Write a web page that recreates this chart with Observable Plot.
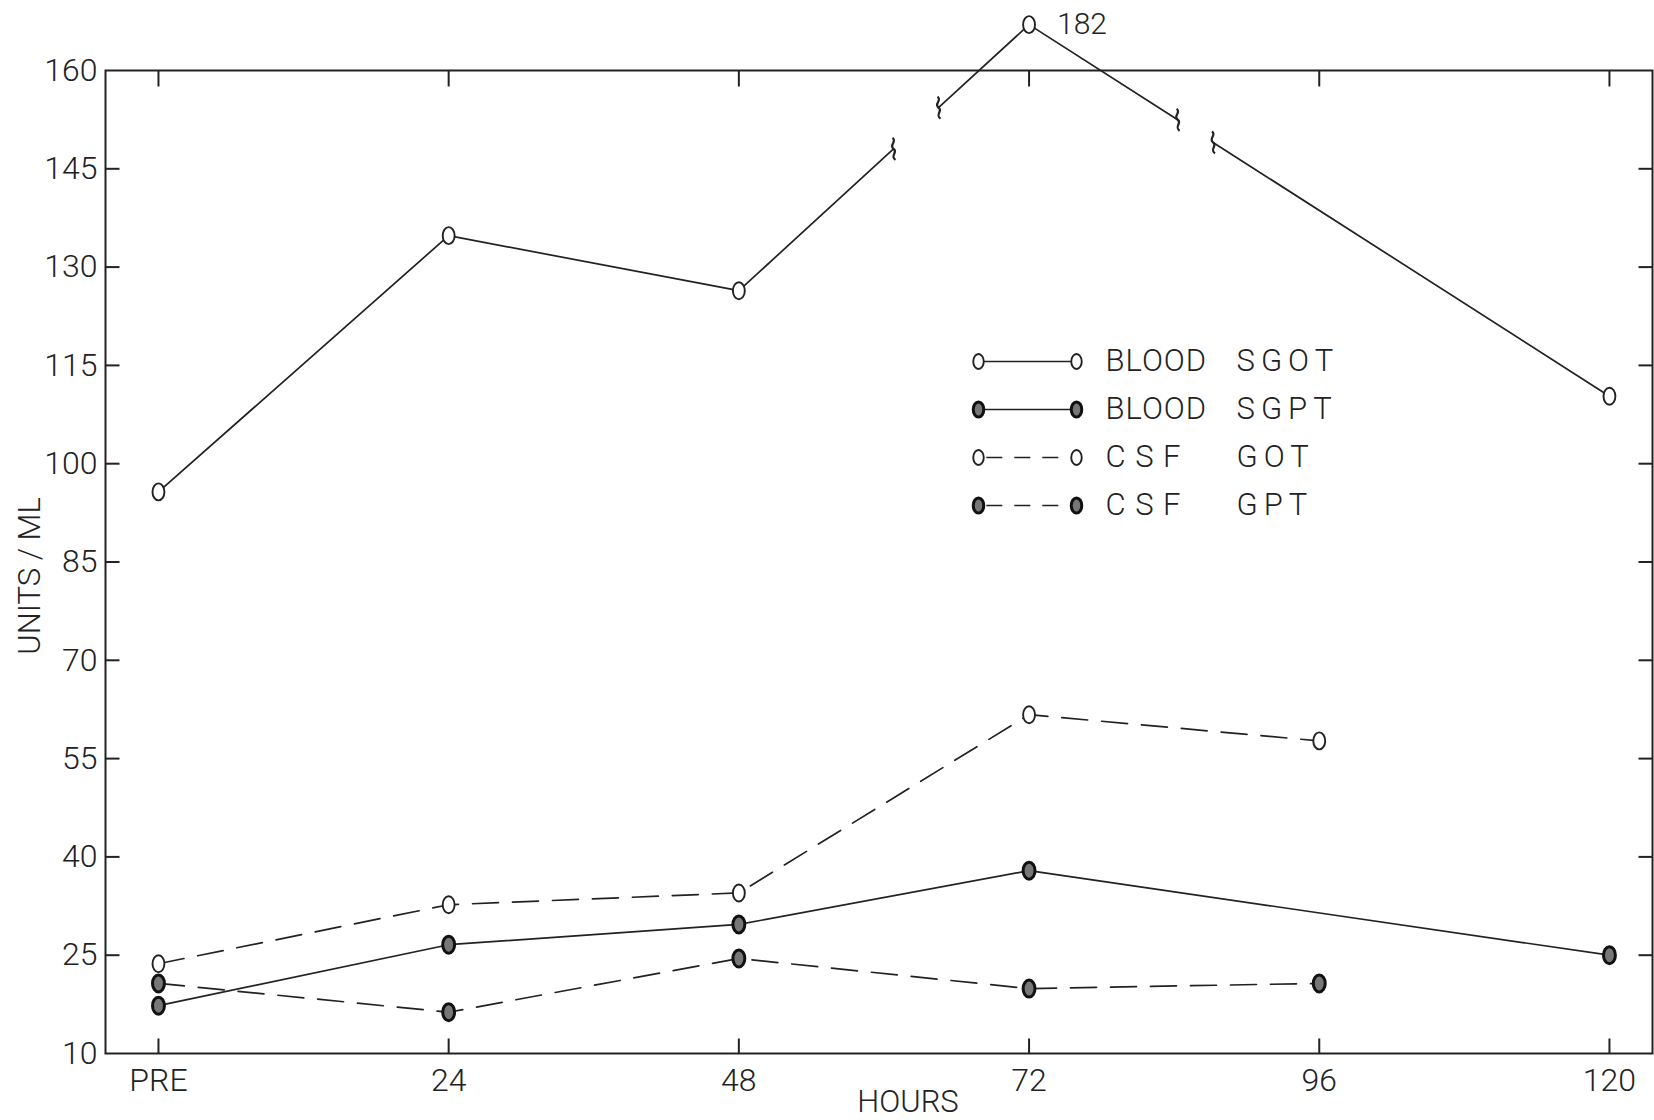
<!DOCTYPE html>
<html><head><meta charset="utf-8">
<script src="https://cdn.jsdelivr.net/npm/d3@7"></script>
<script src="https://cdn.jsdelivr.net/npm/@observablehq/plot@0.6"></script>
<style>
body{margin:0;background:#fff;}
#wrap{position:relative;width:1654px;height:1120px;overflow:hidden;}
#legend{position:absolute;left:960px;top:335px;}
</style></head><body><div id="wrap"><div id="chart"></div><div id="legend"></div></div>
<script>
// ---- data ----
const hours = [0, 24, 48, 72, 96, 120];
const hourLabels = ["PRE", "24", "48", "72", "96", "120"];
const yTicks = [10, 25, 40, 55, 70, 85, 100, 115, 130, 145, 160];
const bloodSGOT = [95.7, 134.8, 126.4, 182, null, 110.3];
const bloodSGPT = [17.3, 26.6, 29.7, 37.9, null, 25.0];
const csfGOT = [23.7, 32.7, 34.5, 61.7, 57.7, null];
const csfGPT = [20.7, 16.3, 24.5, 19.9, 20.7, null];
const seriesNames = ["BLOOD SGOT", "BLOOD SGPT", "CSF GOT", "CSF GPT"];
const legendWords = [["BLOOD", "SGOT"], ["BLOOD", "SGPT"], ["C S F", "GOT"], ["C S F", "GPT"]];
const xLabel = "HOURS";
const yLabel = "UNITS / ML";

// ---- broken axis: values above the top are drawn just above the frame ----
const axisTop = 160, breakDisplay = 167;
const offMax = d3.max(bloodSGOT);
const disp = v => v > axisTop ? axisTop + (v - axisTop) * (breakDisplay - axisTop) / (offMax - axisTop) : v;

const INK = "#222";
const FONT = "Roboto, 'DejaVu Sans', sans-serif";
const DASH = "26,14";

const series = [
  {name: seriesNames[0], values: bloodSGOT, dash: null, heavy: false},
  {name: seriesNames[1], values: bloodSGPT, dash: null, heavy: true},
  {name: seriesNames[2], values: csfGOT, dash: DASH, heavy: false},
  {name: seriesNames[3], values: csfGPT, dash: DASH, heavy: true}
];
const pts = series.map(s => hours.map((h, i) => ({h, v: s.values[i], name: s.name}))
  .filter(d => d.v != null).map(d => ({...d, y: disp(d.v)})));

// line breaks on the SGOT line (fractions along segment after point index)
const sgotBreaks = [{after: 2, t0: 0.533, t1: 0.688}, {after: 3, t0: 0.256, t1: 0.317}];
const sgotPieces = [], breakEnds = [];
{
  let piece = 0;
  const p = pts[0];
  p.forEach((d, i) => {
    sgotPieces.push({h: d.h, y: d.y, piece});
    const b = sgotBreaks.find(b => b.after === i);
    if (b && i + 1 < p.length) {
      const n = p[i + 1];
      const at = t => ({h: d.h + (n.h - d.h) * t, y: d.y + (n.y - d.y) * t});
      const a = at(b.t0), c = at(b.t1);
      sgotPieces.push({...a, piece});
      piece++;
      sgotPieces.push({...c, piece});
      breakEnds.push(a, c);
    }
  });
}

// ---- custom symbols ----
const ellipse = {draw(ctx, size) {
  const r = Math.sqrt(size / Math.PI), rx = r * 0.7, ry = r, k = 0.5523;
  ctx.moveTo(rx, 0);
  ctx.bezierCurveTo(rx, ry * k, rx * k, ry, 0, ry);
  ctx.bezierCurveTo(-rx * k, ry, -rx, ry * k, -rx, 0);
  ctx.bezierCurveTo(-rx, -ry * k, -rx * k, -ry, 0, -ry);
  ctx.bezierCurveTo(rx * k, -ry, rx, -ry * k, rx, 0);
  ctx.closePath();
}};
const squiggle = {draw(ctx) {
  ctx.moveTo(-1, -11);
  ctx.bezierCurveTo(4, -7, -5, -4, 0, 0);
  ctx.bezierCurveTo(5, 3, -4, 7, 2, 11);
}};
const tickSym = (dx, dy) => ({draw(ctx) { ctx.moveTo(0, 0); ctx.lineTo(dx, dy); }});

const dotStyle = s => s.heavy
  ? {fill: "#777", stroke: "#111", strokeWidth: 3}
  : {fill: "#fff", stroke: INK, strokeWidth: 1.9};

const inner = yTicks.slice(1, -1);

const marks = [
  Plot.frame({stroke: INK, strokeWidth: 2}),
  Plot.dot(inner, {y: d => d, frameAnchor: "left", symbol: tickSym(14, 0), stroke: INK, strokeWidth: 2, fill: "none"}),
  Plot.dot(inner, {y: d => d, frameAnchor: "right", symbol: tickSym(-14, 0), stroke: INK, strokeWidth: 2, fill: "none"}),
  Plot.dot(hours, {x: d => d, frameAnchor: "top", symbol: tickSym(0, 16), stroke: INK, strokeWidth: 2, fill: "none"}),
  Plot.dot(hours, {x: d => d, frameAnchor: "bottom", symbol: tickSym(0, -15), stroke: INK, strokeWidth: 2, fill: "none"}),
  Plot.axisY({ticks: yTicks, tickSize: 0, tickPadding: 8, fontSize: 32, label: null}),
  Plot.axisX({ticks: hours, tickFormat: d => hourLabels[hours.indexOf(d)], tickSize: 0, tickPadding: 15, fontSize: 32, label: null}),
  Plot.text([xLabel], {text: d => d, frameAnchor: "bottom", dx: 29, dy: 49, fontSize: 31, lineAnchor: "middle", textAnchor: "middle"}),
  Plot.text([yLabel], {text: d => d, frameAnchor: "left", rotate: -90, dx: -75, dy: 14, fontSize: 31, lineAnchor: "middle", textAnchor: "middle"}),
  Plot.line(sgotPieces, {x: "h", y: "y", z: "piece", stroke: INK, strokeWidth: 1.7}),
  Plot.dot(breakEnds, {x: "h", y: "y", symbol: squiggle, stroke: INK, strokeWidth: 2.2, fill: "none"})
];
series.forEach((s, i) => {
  if (i > 0) marks.push(Plot.line(pts[i], {x: "h", y: "y", stroke: INK, strokeWidth: 1.7, strokeDasharray: s.dash || undefined}));
});
series.forEach((s, i) => {
  marks.push(Plot.dot(pts[i], {x: "h", y: "y", symbol: ellipse, r: 8.5, ...dotStyle(s)}));
});
marks.push(Plot.text(pts[0].filter(d => d.v > axisTop), {x: "h", y: "y", text: d => String(d.v), dx: 28, textAnchor: "start", fontSize: 30, lineAnchor: "middle"}));

const chart = Plot.plot({
  width: 1654, height: 1120,
  marginLeft: 105, marginRight: 2, marginTop: 70, marginBottom: 67,
  x: {domain: [-4.38, 123.56]},
  y: {domain: [10, 160]},
  style: {fontFamily: FONT, fontWeight: 300, color: INK, background: "#fff"},
  marks
});
document.getElementById("chart").appendChild(chart);

// ---- legend (inside the plot area) ----
const legend = Plot.plot({
  width: 440, height: 200, margin: 0,
  x: {domain: [0, 1], range: [18, 116], axis: null},
  y: {type: "point", domain: seriesNames, range: [25, 170], padding: 0, axis: null},
  style: {fontFamily: FONT, fontWeight: 300, color: INK, background: "transparent"},
  marks: [
    Plot.link(series.filter(s => !s.dash), {x1: () => 0, x2: () => 1, y1: d => d.name, y2: d => d.name, stroke: INK, strokeWidth: 1.6}),
    Plot.link(series.filter(s => s.dash), {x1: () => 0.08, x2: () => 0.92, y1: d => d.name, y2: d => d.name, stroke: INK, strokeWidth: 1.6, strokeDasharray: "16,12"}),
    ...series.map(s => Plot.dot([0, 1], {x: d => d, y: () => s.name, symbol: ellipse, r: 7.5, ...dotStyle(s)})),
    Plot.text(series, {x: () => 1, y: d => d.name, text: (d, i) => legendWords[i][0], dx: 29, textAnchor: "start", fontSize: 31, lineAnchor: "middle"}),
    Plot.text(series, {x: () => 1, y: d => d.name, text: (d, i) => legendWords[i][1], dx: 160, textAnchor: "start", fontSize: 31, lineAnchor: "middle"})
  ]
});
const tg = legend.querySelectorAll('g[aria-label="text"]');
if (tg[0]) tg[0].style.letterSpacing = "1px";
if (tg[1]) tg[1].style.letterSpacing = "6px";
document.getElementById("legend").appendChild(legend);
</script>
</body></html>
